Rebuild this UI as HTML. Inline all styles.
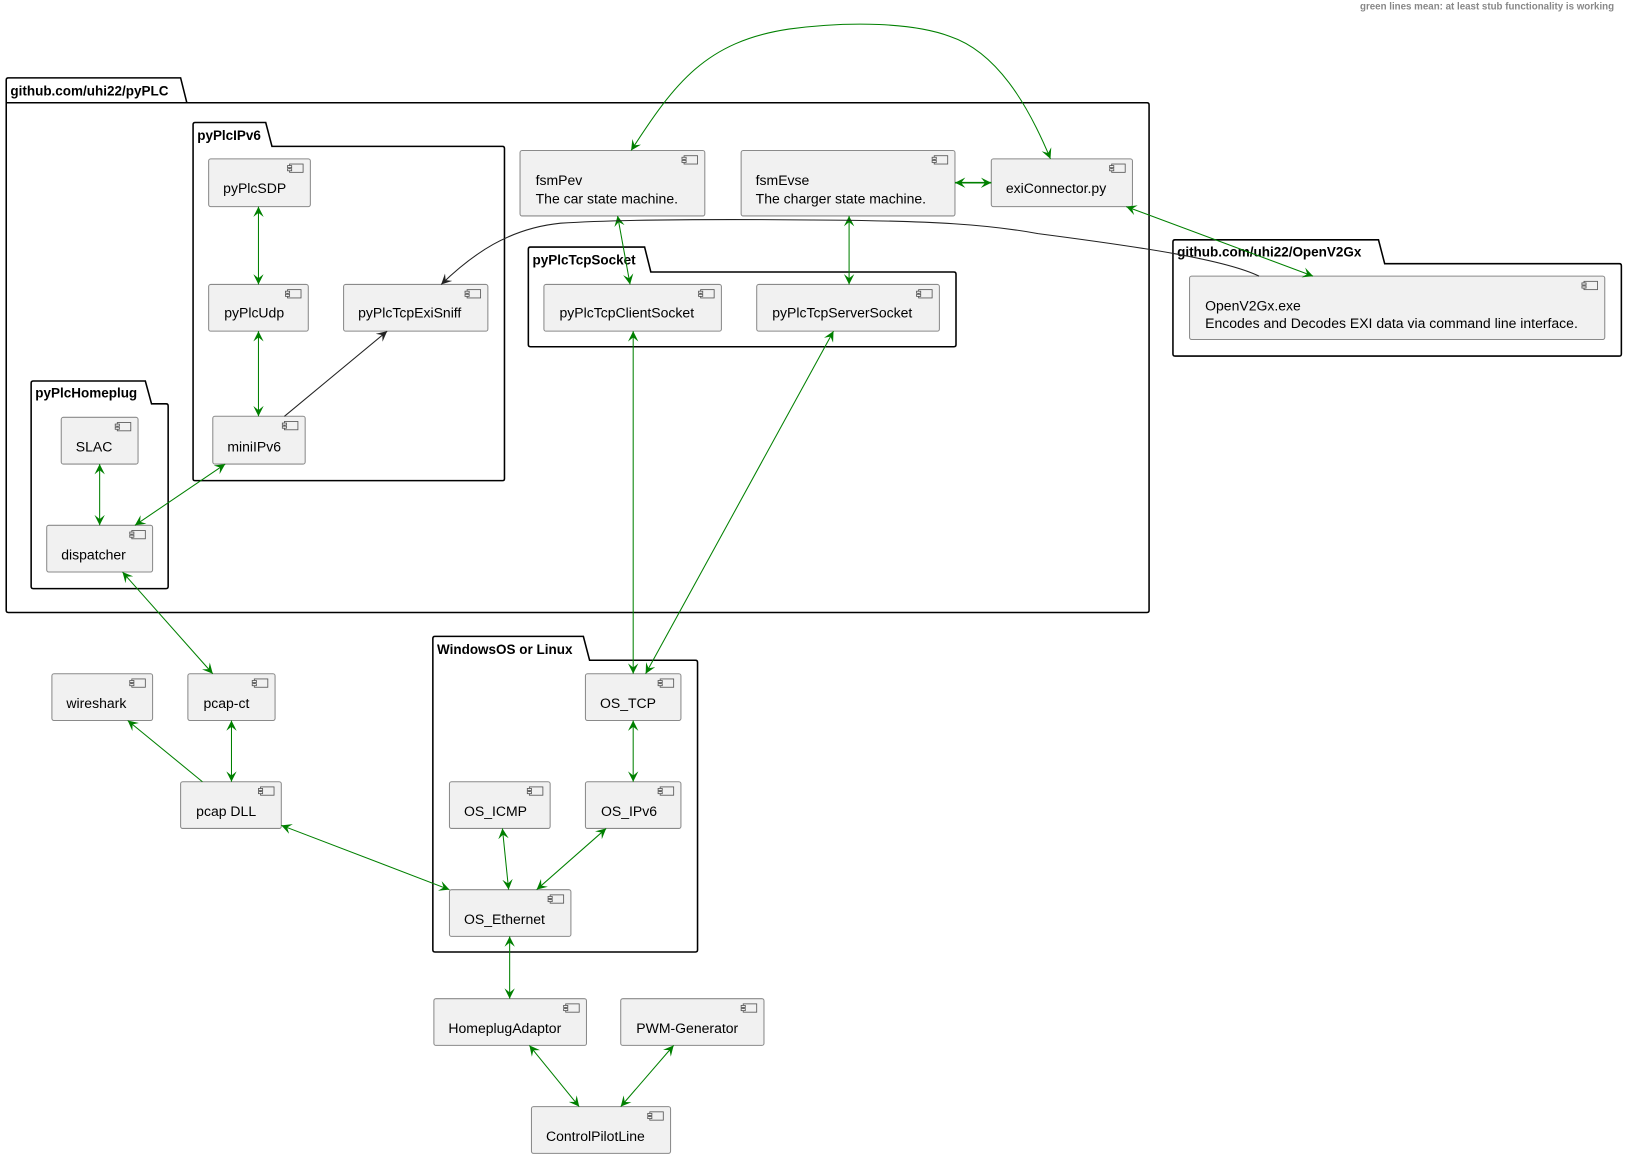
<!DOCTYPE html>
<html><head><meta charset="utf-8"><style>
html,body{margin:0;padding:0;background:#fff;}
svg{display:block;}
text{font-family:"Liberation Sans",sans-serif;}
.c{fill:#f1f1f1;stroke:#8a8a8a;stroke-width:1;}
.p{fill:none;stroke:#000;stroke-width:1.5;}
.t{font-size:13.5px;fill:#000;}
.pt{font-size:13px;font-weight:bold;fill:#000;}
.g{stroke:#008000;stroke-width:1;fill:none;}
.k{stroke:#222;stroke-width:1;fill:none;}
</style></head><body>
<svg width="1625" height="1157" viewBox="0 0 1565.5 1114.5" preserveAspectRatio="none" xmlns="http://www.w3.org/2000/svg">
<defs>
<marker id="ag" viewBox="0 0 10 10" refX="10" refY="5" markerWidth="10" markerHeight="10" markerUnits="userSpaceOnUse" orient="auto-start-reverse">
<path d="M0,0 L10,5 L0,10 L4,5 Z" fill="#008000"/></marker>
<marker id="ak" viewBox="0 0 10 10" refX="10" refY="5" markerWidth="10" markerHeight="10" markerUnits="userSpaceOnUse" orient="auto-start-reverse">
<path d="M0,0 L10,5 L0,10 L4,5 Z" fill="#222"/></marker>
<g id="ic"><rect x="0" y="0" width="13" height="8" fill="#f1f1f1" stroke="#555" stroke-width="0.8"/><rect x="-2" y="1.5" width="4" height="2" fill="#f1f1f1" stroke="#555" stroke-width="0.8"/><rect x="-2" y="4.5" width="4" height="2" fill="#f1f1f1" stroke="#555" stroke-width="0.8"/></g>
</defs>
<text x="1555" y="9" text-anchor="end" style="font-size:9.4px;fill:#888;font-weight:bold">green lines mean: at least stub functionality is working</text>

<!-- packages -->
<path class="p" d="M6,99 V77 Q6,75 8,75 H174 L180,99 H1105 Q1107,99 1107,101 V588 Q1107,590 1105,590 H8 Q6,590 6,588 Z M6,99 H180"/>
<text class="pt" x="10" y="92">github.com/uhi22/pyPLC</text>
<path class="p" d="M186,141 V120 Q186,118 188,118 H256 L262,141 H484 Q486,141 486,143 V461 Q486,463 484,463 H188 Q186,463 186,461 Z"/>
<text class="pt" x="190" y="135">pyPlcIPv6</text>
<path class="p" d="M30,389 V369 Q30,367 32,367 H140 L146,389 H160 Q162,389 162,391 V565 Q162,567 160,567 H32 Q30,567 30,565 Z"/>
<text class="pt" x="34" y="383">pyPlcHomeplug</text>
<path class="p" d="M509,262 V240 Q509,238 511,238 H621 L627,262 H919 Q921,262 921,264 V332 Q921,334 919,334 H511 Q509,334 509,332 Z"/>
<text class="pt" x="513" y="255">pyPlcTcpSocket</text>
<path class="p" d="M1130,254 V233 Q1130,231 1132,231 H1328 L1334,254 H1560 Q1562,254 1562,256 V341 Q1562,343 1560,343 H1132 Q1130,343 1130,341 Z"/>
<text class="pt" x="1134" y="247">github.com/uhi22/OpenV2Gx</text>
<path class="p" d="M417,636 V615 Q417,613 419,613 H562 L568,636 H670 Q672,636 672,638 V915 Q672,917 670,917 H419 Q417,917 417,915 Z"/>
<text class="pt" x="421" y="630">WindowsOS or Linux</text>

<!-- components -->
<g>
<rect class="c" x="201" y="153" width="98" height="46" rx="2"/><use href="#ic" x="279" y="158"/><text class="t" x="215" y="186">pyPlcSDP</text>
<rect class="c" x="201" y="274" width="96" height="45" rx="2"/><use href="#ic" x="277" y="279"/><text class="t" x="216" y="306">pyPlcUdp</text>
<rect class="c" x="331" y="274" width="139" height="45" rx="2"/><use href="#ic" x="450" y="279"/><text class="t" x="345" y="306">pyPlcTcpExiSniff</text>
<rect class="c" x="205" y="401" width="89" height="46" rx="2"/><use href="#ic" x="274" y="406"/><text class="t" x="219" y="435">miniIPv6</text>
<rect class="c" x="59" y="402" width="74" height="45" rx="2"/><use href="#ic" x="113" y="407"/><text class="t" x="73" y="435">SLAC</text>
<rect class="c" x="45" y="506" width="102" height="45" rx="2"/><use href="#ic" x="127" y="511"/><text class="t" x="59" y="539">dispatcher</text>
<rect class="c" x="501" y="145" width="178" height="63" rx="2"/><use href="#ic" x="659" y="150"/><text class="t" x="516" y="178">fsmPev</text><text class="t" x="516" y="196">The car state machine.</text>
<rect class="c" x="714" y="145" width="206" height="63" rx="2"/><use href="#ic" x="900" y="150"/><text class="t" x="728" y="178">fsmEvse</text><text class="t" x="728" y="196">The charger state machine.</text>
<rect class="c" x="955" y="153" width="136" height="46" rx="2"/><use href="#ic" x="1071" y="158"/><text class="t" x="969" y="186">exiConnector.py</text>
<rect class="c" x="524" y="274" width="171" height="45" rx="2"/><use href="#ic" x="675" y="279"/><text class="t" x="539" y="306">pyPlcTcpClientSocket</text>
<rect class="c" x="729" y="274" width="176" height="45" rx="2"/><use href="#ic" x="885" y="279"/><text class="t" x="744" y="306">pyPlcTcpServerSocket</text>
<rect class="c" x="1146" y="266" width="400" height="61" rx="2"/><use href="#ic" x="1526" y="271"/><text class="t" x="1161" y="299">OpenV2Gx.exe</text><text class="t" x="1161" y="316">Encodes and Decodes EXI data via command line interface.</text>
<rect class="c" x="564" y="649" width="92" height="45" rx="2"/><use href="#ic" x="636" y="654"/><text class="t" x="578" y="682">OS_TCP</text>
<rect class="c" x="433" y="753" width="97" height="45" rx="2"/><use href="#ic" x="510" y="758"/><text class="t" x="447" y="786">OS_ICMP</text>
<rect class="c" x="564" y="753" width="92" height="45" rx="2"/><use href="#ic" x="636" y="758"/><text class="t" x="579" y="786">OS_IPv6</text>
<rect class="c" x="433" y="857" width="117" height="45" rx="2"/><use href="#ic" x="530" y="862"/><text class="t" x="447" y="890">OS_Ethernet</text>
<rect class="c" x="50" y="649" width="97" height="45" rx="2"/><use href="#ic" x="127" y="654"/><text class="t" x="64" y="682">wireshark</text>
<rect class="c" x="181" y="649" width="84" height="45" rx="2"/><use href="#ic" x="245" y="654"/><text class="t" x="196" y="682">pcap-ct</text>
<rect class="c" x="174" y="753" width="97" height="45" rx="2"/><use href="#ic" x="251" y="758"/><text class="t" x="189" y="786">pcap DLL</text>
<rect class="c" x="418" y="962" width="147" height="45" rx="2"/><use href="#ic" x="545" y="967"/><text class="t" x="432" y="995">HomeplugAdaptor</text>
<rect class="c" x="598" y="962" width="138" height="45" rx="2"/><use href="#ic" x="716" y="967"/><text class="t" x="613" y="995">PWM-Generator</text>
<rect class="c" x="512" y="1066" width="134" height="45" rx="2"/><use href="#ic" x="626" y="1071"/><text class="t" x="526" y="1099">ControlPilotLine</text>
</g>

<!-- edges -->
<g marker-start="url(#ag)" marker-end="url(#ag)" class="g">
<line x1="249" y1="199" x2="249" y2="274"/>
<line x1="249" y1="319" x2="249" y2="401"/>
<line x1="96" y1="447" x2="96" y2="506"/>
<line x1="130" y1="506" x2="217" y2="447"/>
<line x1="118" y1="551" x2="205" y2="649"/>
<line x1="223" y1="694" x2="223" y2="753"/>
<line x1="271" y1="795" x2="433" y2="857"/>
<line x1="484" y1="798" x2="490" y2="857"/>
<line x1="584" y1="798" x2="517" y2="857"/>
<line x1="610" y1="694" x2="610" y2="753"/>
<line x1="491" y1="902" x2="491" y2="962"/>
<line x1="510" y1="1007" x2="558" y2="1066"/>
<line x1="649" y1="1007" x2="598" y2="1066"/>
<line x1="610" y1="319" x2="610" y2="649"/>
<line x1="803" y1="319" x2="622" y2="649"/>
<line x1="595" y1="208" x2="607" y2="274"/>
<line x1="818" y1="208" x2="818" y2="274"/>
<line x1="920" y1="176" x2="955" y2="176" stroke-width="1.5"/>
<line x1="1085" y1="199" x2="1265" y2="266"/>
<path d="M608,145 C650,80 680,40 760,28 C820,20 880,22 915,35 C960,50 990,100 1012,153"/>
</g>
<line class="g" x1="195" y1="753" x2="123" y2="694" marker-end="url(#ag)"/>
<line class="k" x1="274" y1="401" x2="373" y2="319" marker-end="url(#ak)"/>
<path class="k" d="M1213,266 C1180,250 1100,238 1000,225 C950,216 900,213 800,212 C700,211 600,211 540,215 C490,220 455,245 425,274" marker-end="url(#ak)"/>
</svg>
</body></html>
